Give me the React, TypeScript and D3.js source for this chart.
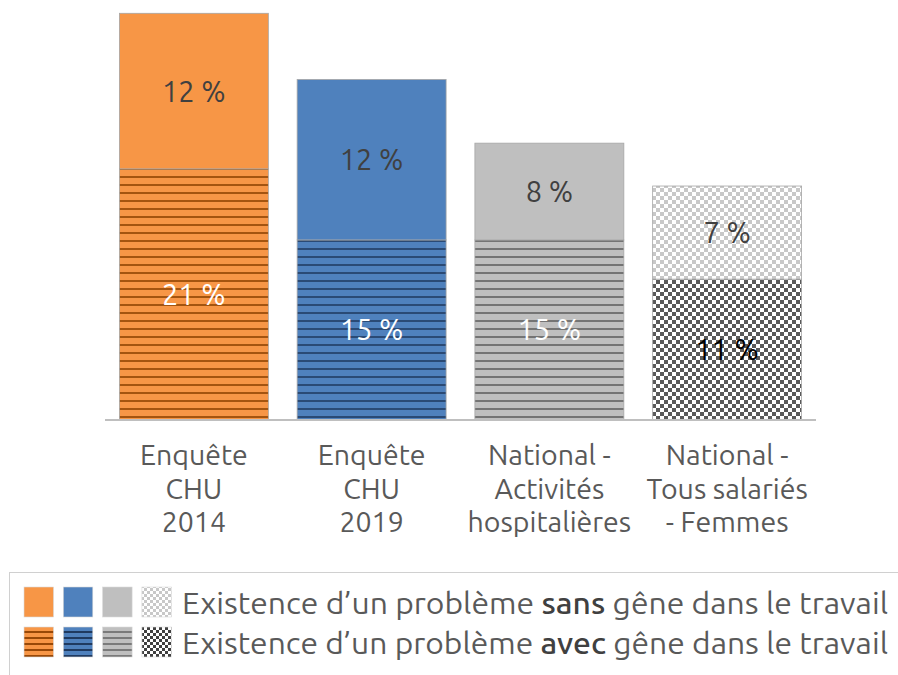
import React from "react";
import * as d3 from "d3";

const categories = [
  ["Enquête", "CHU", "2014"],
  ["Enquête", "CHU", "2019"],
  ["National -", "Activités", "hospitalières"],
  ["National -", "Tous salariés", "- Femmes"],
];
const avecValues = [20.5, 14.7, 14.7, 11.5];
const sansValues = [12.7, 13.1, 7.9, 7.6];
const avecLabels = ["21 %", "15 %", "15 %", "11 %"];
const sansLabels = ["12 %", "12 %", "8 %", "7 %"];
const legendSans = ["Existence d’un problème ", "sans", " gêne dans le travail"];
const legendAvec = ["Existence d’un problème ", "avec", " gêne dans le travail"];

const W = 898;
const H = 675;
const FONT = "Ubuntu, 'Open Sans', sans-serif";

const solidFills = ["#F79646", "#4F81BD", "#BFBFBF", "url(#chkLight)"];
const avecFills = ["url(#stOrange)", "url(#stBlue)", "url(#stGray)", "url(#chkDark)"];
const avecTextColors = ["#ffffff", "#ffffff", "#ffffff", "#000000"];

export default function App() {
  const x = d3
    .scaleBand<number>()
    .domain(d3.range(categories.length))
    .range([105, 816])
    .paddingInner(0.162)
    .paddingOuter(0.081);
  const y = d3.scaleLinear().domain([0, 34]).range([420, 3.5]);
  const bw = x.bandwidth();

  return (
    <svg width={W} height={H} style={{ position: "absolute", left: 0, top: 0, background: "#fff" }}>
      <defs>
        <pattern id="stOrange" patternUnits="userSpaceOnUse" width={8} height={8}>
          <rect width={8} height={8} fill="#F79646" />
          <rect y={0} width={8} height={2} fill="#A4540F" />
        </pattern>
        <pattern id="stBlue" patternUnits="userSpaceOnUse" width={8} height={8}>
          <rect width={8} height={8} fill="#4F81BD" />
          <rect y={0} width={8} height={2} fill="#2A4A75" />
        </pattern>
        <pattern id="stGray" patternUnits="userSpaceOnUse" width={8} height={8}>
          <rect width={8} height={8} fill="#BFBFBF" />
          <rect y={0} width={8} height={2} fill="#747474" />
        </pattern>
        <pattern id="chkLight" patternUnits="userSpaceOnUse" width={8} height={8}>
          <rect width={8} height={8} fill="#FFFFFF" />
          <rect x={0} y={0} width={4} height={4} fill="#C8C8C8" />
          <rect x={4} y={4} width={4} height={4} fill="#C8C8C8" />
        </pattern>
        <pattern id="chkDark" patternUnits="userSpaceOnUse" width={8} height={8}>
          <rect width={8} height={8} fill="#FFFFFF" />
          <rect x={0} y={0} width={4} height={4} fill="#595959" />
          <rect x={4} y={4} width={4} height={4} fill="#595959" />
        </pattern>
        <pattern id="lgOrange" patternUnits="userSpaceOnUse" width={6} height={6} y={1}>
          <rect width={6} height={6} fill="#F79646" />
          <rect width={6} height={2} fill="#984807" />
        </pattern>
        <pattern id="lgBlue" patternUnits="userSpaceOnUse" width={6} height={6} y={1}>
          <rect width={6} height={6} fill="#4F81BD" />
          <rect width={6} height={2} fill="#1F3A60" />
        </pattern>
        <pattern id="lgGray" patternUnits="userSpaceOnUse" width={6} height={6} y={1}>
          <rect width={6} height={6} fill="#BFBFBF" />
          <rect width={6} height={2} fill="#7A7A7A" />
        </pattern>
        <pattern id="lgChkLight" patternUnits="userSpaceOnUse" width={6} height={6}>
          <rect width={6} height={6} fill="#FFFFFF" />
          <rect width={3} height={3} fill="#C8C8C8" />
          <rect x={3} y={3} width={3} height={3} fill="#C8C8C8" />
        </pattern>
        <pattern id="lgChkDark" patternUnits="userSpaceOnUse" width={6} height={6}>
          <rect width={6} height={6} fill="#FFFFFF" />
          <rect width={3} height={3} fill="#404040" />
          <rect x={3} y={3} width={3} height={3} fill="#404040" />
        </pattern>
      </defs>

      {categories.map((_, i) => {
        const x0 = x(i)!;
        const yA = y(avecValues[i]);
        const yT = y(avecValues[i] + sansValues[i]);
        return (
          <g key={i}>
            <rect x={x0} y={yA} width={bw} height={y(0) - yA} fill={avecFills[i]} stroke="#A6A6A6" strokeWidth={0.8} />
            <rect x={x0} y={yT} width={bw} height={yA - yT} fill={solidFills[i]} stroke="#A6A6A6" strokeWidth={0.8} />
            <text
              x={x0 + bw / 2}
              y={(yT + yA) / 2}
              dy="0.36em"
              textAnchor="middle"
              fontFamily={FONT}
              fontSize={29}
              fill="#404040"
            >
              {sansLabels[i]}
            </text>
            <text
              x={x0 + bw / 2}
              y={(yA + y(0)) / 2}
              dy="0.36em"
              textAnchor="middle"
              fontFamily={FONT}
              fontSize={29}
              fill={avecTextColors[i]}
            >
              {avecLabels[i]}
            </text>
            {categories[i].map((line, j) => (
              <text
                key={j}
                x={x0 + bw / 2}
                y={465 + j * 33.5}
                textAnchor="middle"
                fontFamily={FONT}
                fontSize={28.5}
                fill="#595959"
              >
                {line}
              </text>
            ))}
          </g>
        );
      })}

      <line x1={105} x2={816} y1={420} y2={420} stroke="#BFBFBF" strokeWidth={2} />

      <rect x={9.5} y={572.5} width={900} height={120} fill="none" stroke="#D0D0D0" strokeWidth={1} />
      {["#F79646", "#4F81BD", "#BFBFBF", "url(#lgChkLight)"].map((f, i) => (
        <rect key={"a" + i} x={24 + i * 39.3} y={587} width={29.5} height={30} fill={f} stroke="#D9D9D9" strokeWidth={0.6} />
      ))}
      {["url(#lgOrange)", "url(#lgBlue)", "url(#lgGray)", "url(#lgChkDark)"].map((f, i) => (
        <rect key={"b" + i} x={24 + i * 39.3} y={627} width={29.5} height={30} fill={f} stroke="#D9D9D9" strokeWidth={0.6} />
      ))}
      {[legendSans, legendAvec].map((parts, r) => (
        <text
          key={r}
          x={182}
          y={614 + r * 40}
          fontFamily={FONT}
          fontSize={30}
          fill="#595959"
          textLength={706}
          lengthAdjust="spacingAndGlyphs"
        >
          <tspan>{parts[0]}</tspan>
          <tspan fontWeight={500} fill="#404040">{parts[1]}</tspan>
          <tspan>{parts[2]}</tspan>
        </text>
      ))}
    </svg>
  );
}
